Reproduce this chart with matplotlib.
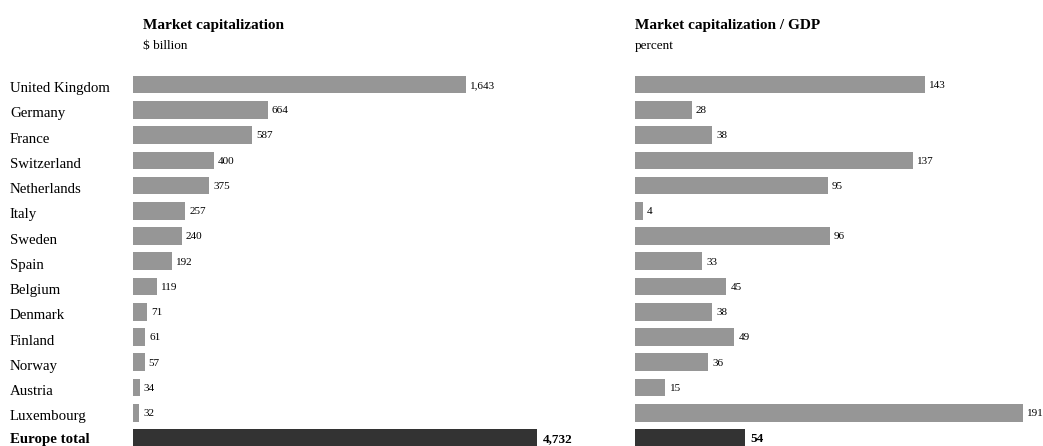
import matplotlib
matplotlib.use('Agg')
import matplotlib.pyplot as plt
from matplotlib.transforms import blended_transform_factory

plt.rcParams['font.family'] = ['Liberation Serif', 'DejaVu Serif']

countries = ['United Kingdom', 'Germany', 'France', 'Switzerland', 'Netherlands',
             'Italy', 'Sweden', 'Spain', 'Belgium', 'Denmark', 'Finland',
             'Norway', 'Austria', 'Luxembourg', 'Europe total']
market_cap = [1643, 664, 587, 400, 375, 257, 240, 192, 119, 71, 61, 57, 34, 32, 4732]
cap_to_gdp = [143, 28, 38, 137, 95, 4, 96, 33, 45, 38, 49, 36, 15, 191, 54]

grey = '#969696'
dark = '#333333'
colors = [grey] * (len(countries) - 1) + [dark]

W, H = 1043, 446
fig = plt.figure(figsize=(W / 100, H / 100), dpi=100)

top_px, bot_px = 72, 446
row_px = 25.2
ax_h = (bot_px - top_px) / H
y = list(range(len(countries)))
ylim = (14 + 8 / row_px, -0.5)
n = len(countries)

ax1 = fig.add_axes([133 / W, 0, 404 / W, ax_h])
ax2 = fig.add_axes([635 / W, 0, 406 / W, ax_h])


def label_style(i):
    if i == n - 1:
        return dict(fontsize=9.5, fontweight='bold'), 4.5 / row_px
    return dict(fontsize=8), 3.3 / row_px


# left panel: the total bar runs off the scale and is cut at the axis edge
lim1 = 1993
ax1.barh(y, market_cap, height=0.7, color=colors)
ax1.set_xlim(0, lim1)
for i, v in enumerate(market_cap):
    kw, dy = label_style(i)
    gap = 27 if i == n - 1 else 20
    ax1.text(min(v, lim1) + gap, i + dy, f'{v:,}', va='baseline', ha='left',
             clip_on=False, **kw)

lim2 = 200
ax2.barh(y, cap_to_gdp, height=0.7, color=colors)
ax2.set_xlim(0, lim2)
for i, v in enumerate(cap_to_gdp):
    kw, dy = label_style(i)
    gap = 2.6 if i == n - 1 else 2.0
    ax2.text(v + gap, i + dy, f'{v:,}', va='baseline', ha='left',
             clip_on=False, **kw)

for ax in (ax1, ax2):
    ax.set_ylim(*ylim)
    ax.axis('off')

trans = blended_transform_factory(fig.transFigure, ax1.transData)
for i, name in enumerate(countries):
    last = i == n - 1
    dy = (5.0 if last else 7.5) / row_px
    ax1.text(10 / W, i + dy, name, transform=trans,
             ha='left', va='baseline', fontsize=10.7,
             fontweight='bold' if last else 'normal')

fig.text(143 / W, 1 - 26 / H, 'Market capitalization', fontsize=11,
         fontweight='bold', va='center', ha='left')
fig.text(143 / W, 1 - 46 / H, '$ billion', fontsize=9.5, va='center', ha='left')
fig.text(635 / W, 1 - 26 / H, 'Market capitalization / GDP', fontsize=11,
         fontweight='bold', va='center', ha='left')
fig.text(635 / W, 1 - 46 / H, 'percent', fontsize=9.5, va='center', ha='left')

fig.savefig('out.png', dpi=100)
